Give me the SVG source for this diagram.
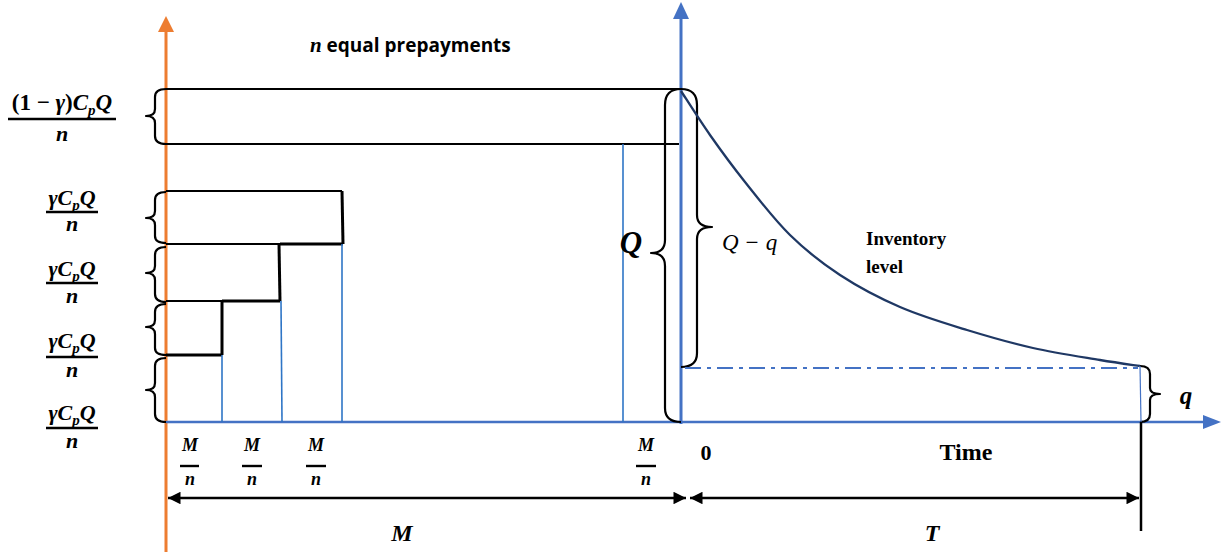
<svg xmlns="http://www.w3.org/2000/svg" width="1223" height="552" viewBox="0 0 1223 552">
<defs>
<style>
.math{font-family:"Liberation Serif","DejaVu Serif",serif;font-weight:bold;font-style:italic;fill:#000}
.up{font-family:"Liberation Serif","DejaVu Serif",serif;font-weight:bold;fill:#000}
.sans{font-family:"Open Sans","Liberation Sans",sans-serif;font-weight:bold;fill:#000}
.brace{fill:none;stroke:#000;stroke-width:2.2;stroke-linejoin:round}
.thin{stroke:#000;stroke-width:1.8;fill:none}
.thick{stroke:#000;stroke-width:3;fill:none}
.tick{stroke:#2e75c6;stroke-width:1.6}
.bar{stroke:#000;stroke-width:2.4}
.dim{stroke:#000;stroke-width:2.5}
</style>
<marker id="ah" viewBox="0 0 10 10" refX="10" refY="5" markerWidth="6" markerHeight="5" orient="auto-start-reverse" markerUnits="strokeWidth">
<path d="M0,0 L10,5 L0,10 z" fill="#000"/>
</marker>
</defs>

<g id="axes">
<line x1="166" y1="30" x2="166" y2="552" stroke="#ed7d31" stroke-width="3"/>
<path d="M166,16 L174,32 L158,32 z" fill="#ed7d31"/>
<line x1="681" y1="14" x2="681" y2="424" stroke="#4472c4" stroke-width="3"/>
<path d="M681,2 L689,19 L673,19 z" fill="#4472c4"/>
<line x1="166" y1="422" x2="1206" y2="422" stroke="#4472c4" stroke-width="2.5"/>
<path d="M1221,422 L1203,415 L1203,429 z" fill="#4472c4"/>
</g>

<g id="prepayment-blocks">
<line class="thin" x1="166" y1="89" x2="681" y2="89"/>
<line class="thin" x1="166" y1="144" x2="679" y2="144"/>
<line class="thin" x1="166" y1="191" x2="342" y2="191"/>
<line class="thick" x1="342" y1="191" x2="343" y2="244"/>
<line class="thin" x1="166" y1="244" x2="280" y2="244"/>
<line class="thick" x1="280" y1="244" x2="343" y2="244"/>
<line class="thick" x1="279" y1="244" x2="280" y2="301"/>
<line class="thin" x1="166" y1="301" x2="222" y2="301"/>
<line class="thick" x1="222" y1="301" x2="280" y2="301"/>
<line class="thick" x1="222" y1="301" x2="222" y2="355"/>
<line class="thick" x1="166" y1="355" x2="222" y2="355"/>
<line class="tick" x1="222" y1="355" x2="222" y2="422"/>
<line class="tick" x1="281" y1="301" x2="282" y2="422"/>
<line class="tick" x1="342" y1="244" x2="342" y2="422"/>
<line class="tick" x1="623" y1="144" x2="623" y2="422"/>
</g>

<g id="left-braces">
<path class="brace" d="M166,89 Q155,89 155,97 L155,109 Q155,116 146,116 Q155,116 155,123 L155,136 Q155,144 166,144"/>
<path class="brace" d="M166,192 Q155,192 155,200 L155,211 Q155,218 146,218 Q155,218 155,225 L155,236 Q155,243 166,243"/>
<path class="brace" d="M166,247 Q155,247 155,255 L155,266 Q155,273 146,273 Q155,273 155,280 L155,294 Q155,302 166,302"/>
<path class="brace" d="M166,304 Q155,304 155,312 L155,320 Q155,327 146,327 Q155,327 155,334 L155,348 Q155,355 166,355"/>
<path class="brace" d="M166,358 Q155,358 155,366 L155,383 Q155,390 146,390 Q155,390 155,397 L155,414 Q155,422 166,422"/>
</g>

<g id="left-labels">
<text class="math" x="62" y="110" font-size="23" text-anchor="middle"><tspan class="up" font-style="normal">(1 − </tspan>γ<tspan class="up" font-style="normal">)</tspan>C<tspan font-size="15" dy="5">p</tspan><tspan dy="-5">Q</tspan></text>
<line class="bar" x1="8" y1="119" x2="116" y2="119"/>
<text class="math" x="62" y="141" font-size="22" text-anchor="middle">n</text>

<text class="math" x="72" y="205" font-size="22" text-anchor="middle">γC<tspan font-size="15" dy="5">p</tspan><tspan dy="-5">Q</tspan></text>
<line class="bar" x1="46" y1="212" x2="98" y2="212"/>
<text class="math" x="72" y="231" font-size="22" text-anchor="middle">n</text>

<text class="math" x="72" y="276" font-size="22" text-anchor="middle">γC<tspan font-size="15" dy="5">p</tspan><tspan dy="-5">Q</tspan></text>
<line class="bar" x1="46" y1="283" x2="98" y2="283"/>
<text class="math" x="72" y="303" font-size="22" text-anchor="middle">n</text>

<text class="math" x="72" y="348" font-size="22" text-anchor="middle">γC<tspan font-size="15" dy="5">p</tspan><tspan dy="-5">Q</tspan></text>
<line class="bar" x1="46" y1="357" x2="98" y2="357"/>
<text class="math" x="72" y="377" font-size="22" text-anchor="middle">n</text>

<text class="math" x="72" y="420" font-size="22" text-anchor="middle">γC<tspan font-size="15" dy="5">p</tspan><tspan dy="-5">Q</tspan></text>
<line class="bar" x1="46" y1="428" x2="98" y2="428"/>
<text class="math" x="72" y="448" font-size="22" text-anchor="middle">n</text>
</g>

<g id="title">
<text x="310" y="52" font-size="21"><tspan class="math">n</tspan><tspan class="sans" font-size="19"> equal prepayments</tspan></text>
</g>

<g id="q-braces">
<path class="brace" d="M681,89 Q665,89 665,105 L665,240 Q665,253 651,253 Q665,253 665,266 L665,408 Q665,422 681,422"/>
<path class="brace" d="M681,89 Q697,89 697,105 L697,215 Q697,227 712,227 Q697,227 697,239 L697,353 Q697,367 681,367"/>
<path class="brace" d="M1140,366 Q1150,366 1150,374 L1150,388 Q1150,394 1160,394 Q1150,394 1150,400 L1150,414 Q1150,422 1140,422"/>
<text class="math" x="631" y="253" font-size="31" text-anchor="middle">Q</text>
<text x="722" y="250" font-size="23" font-family="'Liberation Serif','DejaVu Serif',serif" font-style="italic">Q − q</text>
<text class="math" x="1186" y="404" font-size="25" text-anchor="middle">q</text>
</g>

<g id="inventory-curve">
<path d="M681,91 C685.8,98.3 699.3,119.8 710,135 C720.7,150.2 731.7,165.3 745,182 C758.3,198.7 774.2,219.5 790,235 C805.8,250.5 821.7,263 840,275 C858.3,287 878.8,297.8 900,307 C921.2,316.2 944.8,323.2 967,330 C989.2,336.8 1010.8,343 1033,348 C1055.2,353 1082.2,357 1100,360 C1117.8,363 1133.3,365 1140,366" fill="none" stroke="#1f3864" stroke-width="2.3"/>
<line x1="685" y1="368" x2="1138" y2="368" stroke="#4472c4" stroke-width="2" stroke-dasharray="16 6 4 6"/>
<line x1="1140" y1="366" x2="1141" y2="422" stroke="#4472c4" stroke-width="1.2"/>
<text class="up" x="866" y="245" font-size="19">Inventory</text>
<text class="up" x="866" y="273" font-size="19">level</text>
</g>

<g id="time-labels">
<text class="up" x="706" y="460" font-size="22" text-anchor="middle">0</text>
<text class="up" x="966" y="460" font-size="24" text-anchor="middle">Time</text>
<text class="math" x="190" y="451" font-size="18" text-anchor="middle">M</text>
<line class="bar" x1="180" y1="466" x2="199" y2="466"/>
<text class="math" x="190" y="485" font-size="18" text-anchor="middle">n</text>
<text class="math" x="252" y="451" font-size="18" text-anchor="middle">M</text>
<line class="bar" x1="242" y1="466" x2="262" y2="466"/>
<text class="math" x="252" y="485" font-size="18" text-anchor="middle">n</text>
<text class="math" x="316" y="451" font-size="18" text-anchor="middle">M</text>
<line class="bar" x1="306" y1="466" x2="326" y2="466"/>
<text class="math" x="316" y="485" font-size="18" text-anchor="middle">n</text>
<text class="math" x="646" y="451" font-size="18" text-anchor="middle">M</text>
<line class="bar" x1="636" y1="466" x2="656" y2="466"/>
<text class="math" x="646" y="485" font-size="18" text-anchor="middle">n</text>
</g>

<g id="connectors">
<line class="dim" x1="168" y1="498" x2="686" y2="498" marker-start="url(#ah)" marker-end="url(#ah)"/>
<line class="dim" x1="690" y1="498" x2="1139" y2="498" marker-start="url(#ah)" marker-end="url(#ah)"/>
<line x1="1141" y1="422" x2="1141" y2="531" stroke="#000" stroke-width="2.5"/>
</g>

<g id="dim-labels">
<text class="math" x="402" y="541" font-size="24" text-anchor="middle">M</text>
<text class="math" x="932" y="541" font-size="24" text-anchor="middle">T</text>
</g>
</svg>
